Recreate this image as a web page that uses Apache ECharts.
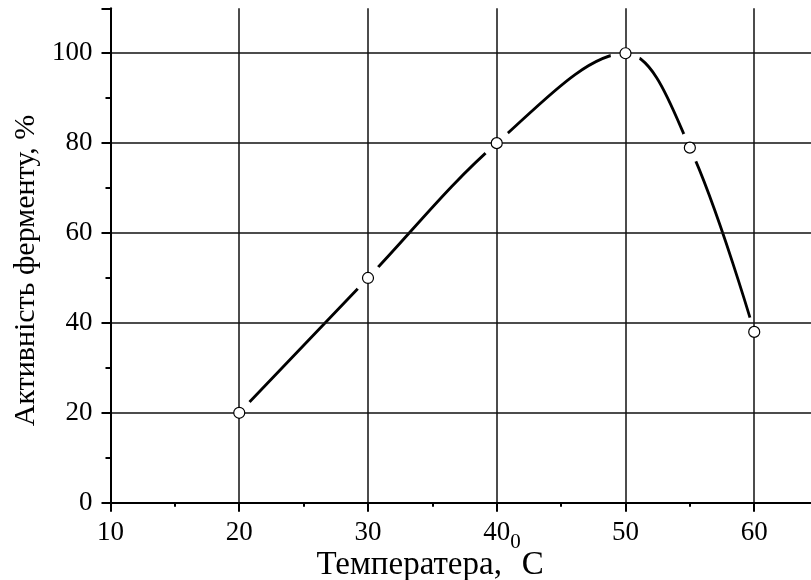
<!DOCTYPE html>
<html>
<head>
<meta charset="utf-8">
<script src="https://cdn.jsdelivr.net/npm/echarts@6/dist/echarts.min.js"></script>
<style>
  html, body { margin: 0; padding: 0; background: #ffffff; }
  #chart { width: 811px; height: 580px; }
</style>
</head>
<body>
<div id="chart"></div>
<script>
// Temperature dependence of enzyme activity
const temperature = [20, 30, 40, 50, 55, 60];
const activity = [20, 50, 80, 100, 79, 38];

const xTicks = { min: 10, max: 65, step: 10 };
const yTicks = { min: 0, max: 110, step: 20 };

const points = temperature.map((t, i) => [t, activity[i]]);

const FONT = '"Liberation Serif", "Times New Roman", serif';
const INK = '#000000';

const chart = echarts.init(document.getElementById('chart'), null, { renderer: 'canvas' });

chart.setOption({
  backgroundColor: '#ffffff',
  animation: false,
  grid: {
    left: 110.5, right: -7.6, top: 8.3, bottom: 77.3,
    containLabel: false,
    outerBoundsMode: 'none'
  },
  xAxis: {
    type: 'value',
    min: xTicks.min,
    max: xTicks.max,
    interval: xTicks.step,
    zlevel: 1,
    z: 5,
    name: '{t|Температера, }{s|0}{t|C}',
    nameLocation: 'middle',
    nameGap: 29,
    nameMoveOverlap: false,
    nameTextStyle: {
      padding: [0, 69, 0, 0],
      rich: {
        t: { fontFamily: FONT, fontSize: 33, lineHeight: 68, color: INK },
        s: { fontFamily: FONT, fontSize: 21, color: INK, verticalAlign: 'top', padding: [0, 1, 0, 0] }
      }
    },
    axisLine: { show: true, onZero: false, lineStyle: { color: INK, width: 2 } },
    axisTick: { show: true, inside: false, length: 9, lineStyle: { color: INK, width: 2 } },
    minorTick: { show: true, splitNumber: 2, length: 4, lineStyle: { color: INK, width: 2 } },
    axisLabel: { show: true, margin: 17, fontFamily: FONT, fontSize: 27, color: INK, showMaxLabel: false },
    splitLine: { show: true, showMaxLine: false, lineStyle: { color: '#111111', width: 1.5 } },
    minorSplitLine: { show: false }
  },
  yAxis: {
    type: 'value',
    min: yTicks.min,
    max: yTicks.max,
    interval: yTicks.step,
    zlevel: 1,
    z: 5,
    name: 'Активність ферменту, %',
    nameLocation: 'middle',
    nameRotate: 90,
    nameGap: 63,
    nameTextStyle: { fontFamily: FONT, fontSize: 30, color: INK, padding: [0, 30, 0, 0] },
    axisLine: { show: true, onZero: false, lineStyle: { color: INK, width: 2 } },
    axisTick: { show: true, inside: false, length: 9, lineStyle: { color: INK, width: 2 } },
    minorTick: { show: true, splitNumber: 2, length: 5, lineStyle: { color: INK, width: 2 } },
    axisLabel: { show: true, margin: 18, fontFamily: FONT, fontSize: 27, color: INK, showMaxLabel: false },
    splitLine: { show: true, showMaxLine: false, lineStyle: { color: '#111111', width: 1.5 } },
    minorSplitLine: { show: false }
  },
  series: [
    {
      // smoothed curve through the measurements
      type: 'line',
      data: points,
      smooth: 0.35,
      showSymbol: false,
      zlevel: 0,
      z: 2,
      lineStyle: { color: INK, width: 2.8 },
      silent: true
    },
    {
      // white discs that open a gap in the curve around each point
      type: 'scatter',
      data: points,
      symbol: 'circle',
      symbolSize: 30,
      zlevel: 1,
      z: 1,
      itemStyle: { color: '#ffffff', opacity: 1, borderWidth: 0 },
      silent: true
    },
    {
      // measured points
      type: 'scatter',
      data: points,
      symbol: 'circle',
      symbolSize: 11,
      zlevel: 2,
      z: 6,
      itemStyle: { color: '#ffffff', opacity: 1, borderColor: INK, borderWidth: 1.2 },
      silent: true
    }
  ]
});
</script>
</body>
</html>
